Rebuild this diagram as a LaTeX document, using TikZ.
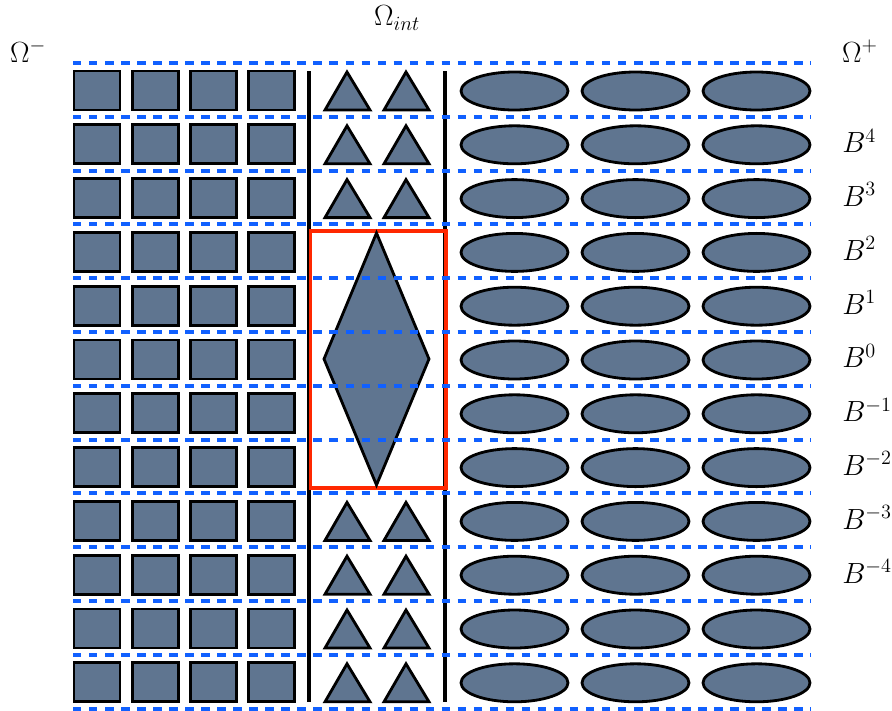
\documentclass[tikz,border=0pt]{standalone}
\usepackage{amsmath}
\definecolor{cinzaazul}{RGB}{95,117,144}
\definecolor{azulfaixa}{RGB}{16,96,255}
\definecolor{vermelho}{RGB}{255,40,0}
\tikzset{
  peca/.style={draw=black, line width=2pt, fill=cinzaazul, line join=miter},
  faixa/.style={azulfaixa, line width=2.8pt, dash pattern=on 6pt off 5.4pt},
  parede/.style={black, line width=2.6pt},
  rotulo/.style={font=\fontsize{20}{24}\selectfont, inner sep=0pt}
}
\begin{document}
\begin{tikzpicture}[x=0.025cm,y=-0.025cm]
                \useasboundingbox (0,0) rectangle (892,710);

                % quadrados (Omega^-)
                \foreach \k in {0,...,11}{
                    \foreach \c in {0,...,3}{
                        \draw[peca] ({74+58.3*\c},{71+53.8*\k}) rectangle ++(46,39);
                    }
                }

                % triangulos (Omega_int), fora da caixa vermelha
                \foreach \k in {0,1,2,8,9,10,11}{
                    \foreach \c in {0,1}{
                        \draw[peca] ({325+59*\c},{110+53.8*\k}) -- ++(22,-38) -- ++(23,38) -- cycle;
                    }
                }

                % elipses (Omega^+)
                \foreach \k in {0,...,11}{
                    \foreach \c in {0,1,2}{
                        \draw[peca] ({514.5+121*\c},{91+53.8*\k}) ellipse (53.5 and 19);
                    }
                }

                % paredes de Omega_int
                \draw[parede] (309,71) -- (309,702);
                \draw[parede] (445,71) -- (445,702);

                % caixa vermelha e o losango
                \draw[vermelho, line width=2.4pt] (310.5,231) rectangle (446,488);
                \draw[peca] (376.5,233) -- (429,359) -- (376.5,485) -- (324,359) -- cycle;

                % faixas tracejadas
                \foreach \k in {0,...,12}{
                    \draw[faixa] (73,{63+53.8*\k}) -- (811,{63+53.8*\k});
                }

                % rotulos
                \node[rotulo] (omegamenos) at (28,51) {$\Omega^-$};
                \node[rotulo] (omegaint) at (397,18) {$\Omega_{int}$};
                \node[rotulo] (omegamais) at (860,51) {$\Omega^+$};
                \foreach \k in {1,...,9}{
                    \pgfmathtruncatemacro\e{5-\k}
                    \node[rotulo, anchor=west] (B\k) at (842,{63+53.8*\k+24}) {$B^{\e}$};
                }
            \end{tikzpicture}
\end{document}
